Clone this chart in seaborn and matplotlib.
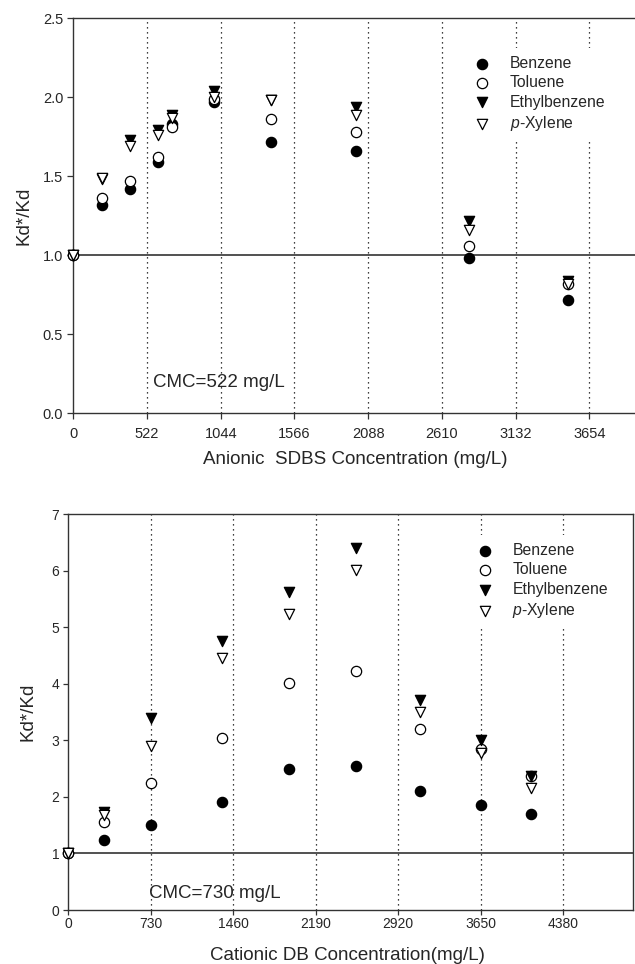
import pandas as pd
import seaborn as sns
import matplotlib.pyplot as plt

# anionic SDBS panel
sdbs_conc = [0, 200, 400, 600, 700, 1000, 1400, 2000, 2800, 3500]
sdbs_benzene = [1.0, 1.32, 1.42, 1.59, 1.83, 1.97, 1.72, 1.66, 0.98, 0.72]
sdbs_toluene = [1.0, 1.36, 1.47, 1.62, 1.81, 1.99, 1.86, 1.78, 1.06, 0.82]
sdbs_ethyl = [1.0, 1.48, 1.73, 1.79, 1.89, 2.04, 1.98, 1.94, 1.22, 0.84]
sdbs_xylene = [1.0, 1.49, 1.69, 1.76, 1.87, 2.00, 1.98, 1.89, 1.16, 0.82]
sdbs_ticks = [0, 522, 1044, 1566, 2088, 2610, 3132, 3654]

# cationic DB panel
db_conc = [0, 320, 730, 1360, 1950, 2550, 3110, 3650, 4100]
db_benzene = [1.0, 1.24, 1.50, 1.91, 2.50, 2.55, 2.11, 1.86, 1.69]
db_toluene = [1.0, 1.55, 2.25, 3.04, 4.01, 4.23, 3.20, 2.84, 2.37]
db_ethyl = [1.0, 1.74, 3.39, 4.75, 5.62, 6.41, 3.72, 3.01, 2.37]
db_xylene = [1.0, 1.68, 2.90, 4.45, 5.23, 6.02, 3.51, 2.78, 2.15]
db_ticks = [0, 730, 1460, 2190, 2920, 3650, 4380]

compounds = ['Benzene', 'Toluene', 'Ethylbenzene', '$p$-Xylene']
markers = ['o', 'o', 'v', 'v']
faces = ['black', 'white', 'black', 'white']

sns.set_style('ticks')
plt.rcParams['font.family'] = ['Liberation Sans', 'DejaVu Sans']
plt.rcParams['mathtext.fontset'] = 'custom'
plt.rcParams['mathtext.it'] = 'Liberation Sans:italic'


def panel(ax, conc, series, ticks, xmax, ymax, yticks, ylabels, cmc_text, cmc_xy,
          xlabel, leg_xy, tick_size, tick_len, tick_pad):
    for vals, name, m, fc in zip(series, compounds, markers, faces):
        df = pd.DataFrame({'conc': conc, 'ratio': vals})
        sns.scatterplot(data=df, x='conc', y='ratio', ax=ax, marker=m, s=55,
                        color=fc, edgecolor='black', linewidth=0.9,
                        label=name, clip_on=False, zorder=3)
    for t in ticks[1:]:
        ax.axvline(t, color='black', linestyle=(0, (1, 3)), linewidth=0.9, zorder=1)
    ax.axhline(1.0, color='#333333', linewidth=1.2, zorder=2)
    ax.set_xlim(0, xmax)
    ax.set_ylim(0, ymax)
    ax.set_xticks(ticks)
    ax.set_yticks(yticks)
    ax.set_yticklabels(ylabels)
    ax.tick_params(labelsize=tick_size, length=tick_len, width=0.9,
                   color='#333333', pad=3)
    ax.tick_params(axis='x', pad=tick_pad)
    for sp in ax.spines.values():
        sp.set_color('#333333')
        sp.set_linewidth(1.0)
    ax.set_xlabel(xlabel, fontsize=13.5, ha='left')
    ax.set_ylabel('Kd*/Kd', fontsize=13.5)
    ax.text(cmc_xy[0], cmc_xy[1], cmc_text, fontsize=13.5, ha='left', va='baseline')
    leg = ax.legend(loc='upper left', bbox_to_anchor=leg_xy, fontsize=11.3,
                    frameon=True, framealpha=1, edgecolor='none', facecolor='white',
                    handlelength=1.0, handletextpad=1.25, labelspacing=0.28,
                    borderpad=0.5, fancybox=False)
    leg.set_zorder(5)


fig = plt.figure(figsize=(6.35, 9.64), dpi=100)

ax1 = fig.add_axes([0.1154, 0.5713, 0.8846, 0.4097])
panel(ax1, sdbs_conc, [sdbs_benzene, sdbs_toluene, sdbs_ethyl, sdbs_xylene],
      sdbs_ticks, 3978, 2.5, [0, 0.5, 1.0, 1.5, 2.0, 2.5],
      ['0.0', '0.5', '1.0', '1.5', '2.0', '2.5'],
      'CMC=522 mg/L', (564, 0.166), 'Anionic  SDBS Concentration (mg/L)',
      (0.686, 0.945), 10.5, 4.3, 5.8)
ax1.spines['right'].set_visible(False)
ax1.xaxis.set_label_coords(0.231, -0.095)
ax1.yaxis.set_label_coords(-0.072, 0.5)

ax2 = fig.add_axes([0.1076, 0.0560, 0.8893, 0.4105])
panel(ax2, db_conc, [db_benzene, db_toluene, db_ethyl, db_xylene],
      db_ticks, 5000, 7, list(range(8)), [str(i) for i in range(8)],
      'CMC=730 mg/L', (717, 0.21), 'Cationic DB Concentration(mg/L)',
      (0.696, 0.967), 10, 3.6, 1.5)
ax2.xaxis.set_label_coords(0.251, -0.093)
ax2.yaxis.set_label_coords(-0.057, 0.5)

fig.savefig('out.png', dpi=100)
